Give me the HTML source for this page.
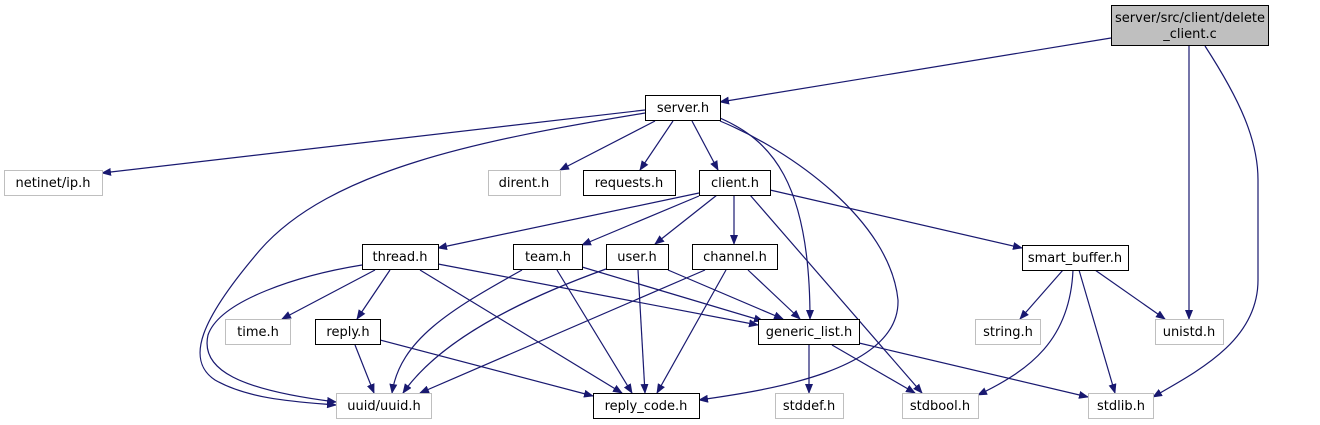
<!DOCTYPE html>
<html><head><style>
html,body{margin:0;padding:0;background:#fff;width:1320px;height:425px;overflow:hidden}
svg text{font-family:"DejaVu Sans","Liberation Sans",sans-serif;font-size:13px;text-anchor:middle}
</style></head><body>
<svg width="1320" height="425" viewBox="0 0 1320 425" xmlns="http://www.w3.org/2000/svg">
<defs><marker id="a" markerWidth="10" markerHeight="8" refX="9" refY="4" orient="auto" markerUnits="userSpaceOnUse"><path d="M0,0 L10,4 L0,8 z" fill="#191970"/></marker></defs>
<g fill="none" stroke="#191970" stroke-width="1.2" marker-end="url(#a)">
<path d="M1111,38 L720,102"/>
<path d="M1189,46 L1189,319"/>
<path d="M1205,46 C1240,100 1258,140 1258,180 L1258,280 C1258,340 1200,370 1153,397"/>
<path d="M645,110 L102,173"/>
<path d="M645,113 C480,140 330,170 260,250 C200,320 185,360 215,380 C250,400 300,402 336,405"/>
<path d="M655,121 L560,170"/>
<path d="M673,121 L640,170"/>
<path d="M692,121 L718,170"/>
<path d="M720,118 C770,140 810,180 810,319"/>
<path d="M720,121 C790,150 890,220 898,300 C900,370 770,390 699,400"/>
<path d="M699,193 L438,248"/>
<path d="M699,196 L582,245"/>
<path d="M717,195 L655,244"/>
<path d="M734,195 L734,244"/>
<path d="M750,195 L922,393"/>
<path d="M770,190 L1022,248"/>
<path d="M375,270 L282,319"/>
<path d="M390,270 L357,319"/>
<path d="M362,265 C300,275 220,300 208,335 C200,370 240,390 336,402"/>
<path d="M420,270 L622,393"/>
<path d="M438,264 L758,325"/>
<path d="M522,270 C450,310 400,340 392,393"/>
<path d="M557,270 L632,393"/>
<path d="M582,267 L763,321"/>
<path d="M606,269 C520,300 440,340 403,393"/>
<path d="M638,270 L645,393"/>
<path d="M668,270 L783,319"/>
<path d="M705,270 L420,393"/>
<path d="M726,270 L657,393"/>
<path d="M748,270 L800,319"/>
<path d="M355,345 L374,393"/>
<path d="M380,340 L593,396"/>
<path d="M809,345 L809,393"/>
<path d="M832,345 L915,393"/>
<path d="M859,343 L1088,397"/>
<path d="M1063,270 L1020,319"/>
<path d="M1073,270 C1070,340 1030,370 978,395"/>
<path d="M1079,270 L1115,393"/>
<path d="M1095,270 L1165,319"/>
</g>
<g stroke-width="1">
<rect x="1111.5" y="5.5" width="157" height="40" fill="#bfbfbf" stroke="#000"/>
<g fill="#fff" stroke="#000">
<rect x="645.5" y="95.5" width="75" height="25"/>
<rect x="583.5" y="170.5" width="92" height="25"/>
<rect x="699.5" y="170.5" width="71" height="25"/>
<rect x="362.5" y="244.5" width="76" height="25"/>
<rect x="513.5" y="244.5" width="69" height="25"/>
<rect x="606.5" y="244.5" width="62" height="25"/>
<rect x="692.5" y="244.5" width="85" height="25"/>
<rect x="1022.5" y="245.5" width="106" height="25"/>
<rect x="315.5" y="319.5" width="65" height="25"/>
<rect x="758.5" y="319.5" width="101" height="25"/>
<rect x="593.5" y="393.5" width="106" height="25"/>
</g>
<g fill="#fff" stroke="#bfbfbf">
<rect x="4.5" y="170.5" width="98" height="25"/>
<rect x="488.5" y="170.5" width="72" height="25"/>
<rect x="225.5" y="319.5" width="65" height="25"/>
<rect x="975.5" y="319.5" width="65" height="25"/>
<rect x="1155.5" y="319.5" width="68" height="25"/>
<rect x="336.5" y="393.5" width="95" height="25"/>
<rect x="775.5" y="393.5" width="68" height="25"/>
<rect x="902.5" y="393.5" width="76" height="25"/>
<rect x="1088.5" y="393.5" width="65" height="25"/>
</g>
</g>
<g fill="#000">
<text x="1190" y="22">server/src/client/delete</text>
<text x="1190" y="38">_client.c</text>
<text x="683" y="112">server.h</text>
<text x="629" y="187">requests.h</text>
<text x="735" y="187">client.h</text>
<text x="400" y="261">thread.h</text>
<text x="548" y="261">team.h</text>
<text x="637" y="261">user.h</text>
<text x="735" y="261">channel.h</text>
<text x="1075" y="262">smart_buffer.h</text>
<text x="348" y="336">reply.h</text>
<text x="809" y="336">generic_list.h</text>
<text x="646" y="410">reply_code.h</text>
<text x="53" y="187">netinet/ip.h</text>
<text x="524" y="187">dirent.h</text>
<text x="258" y="336">time.h</text>
<text x="1008" y="336">string.h</text>
<text x="1189" y="336">unistd.h</text>
<text x="384" y="410">uuid/uuid.h</text>
<text x="809" y="410">stddef.h</text>
<text x="940" y="410">stdbool.h</text>
<text x="1121" y="410">stdlib.h</text>
</g>
</svg>
</body></html>
